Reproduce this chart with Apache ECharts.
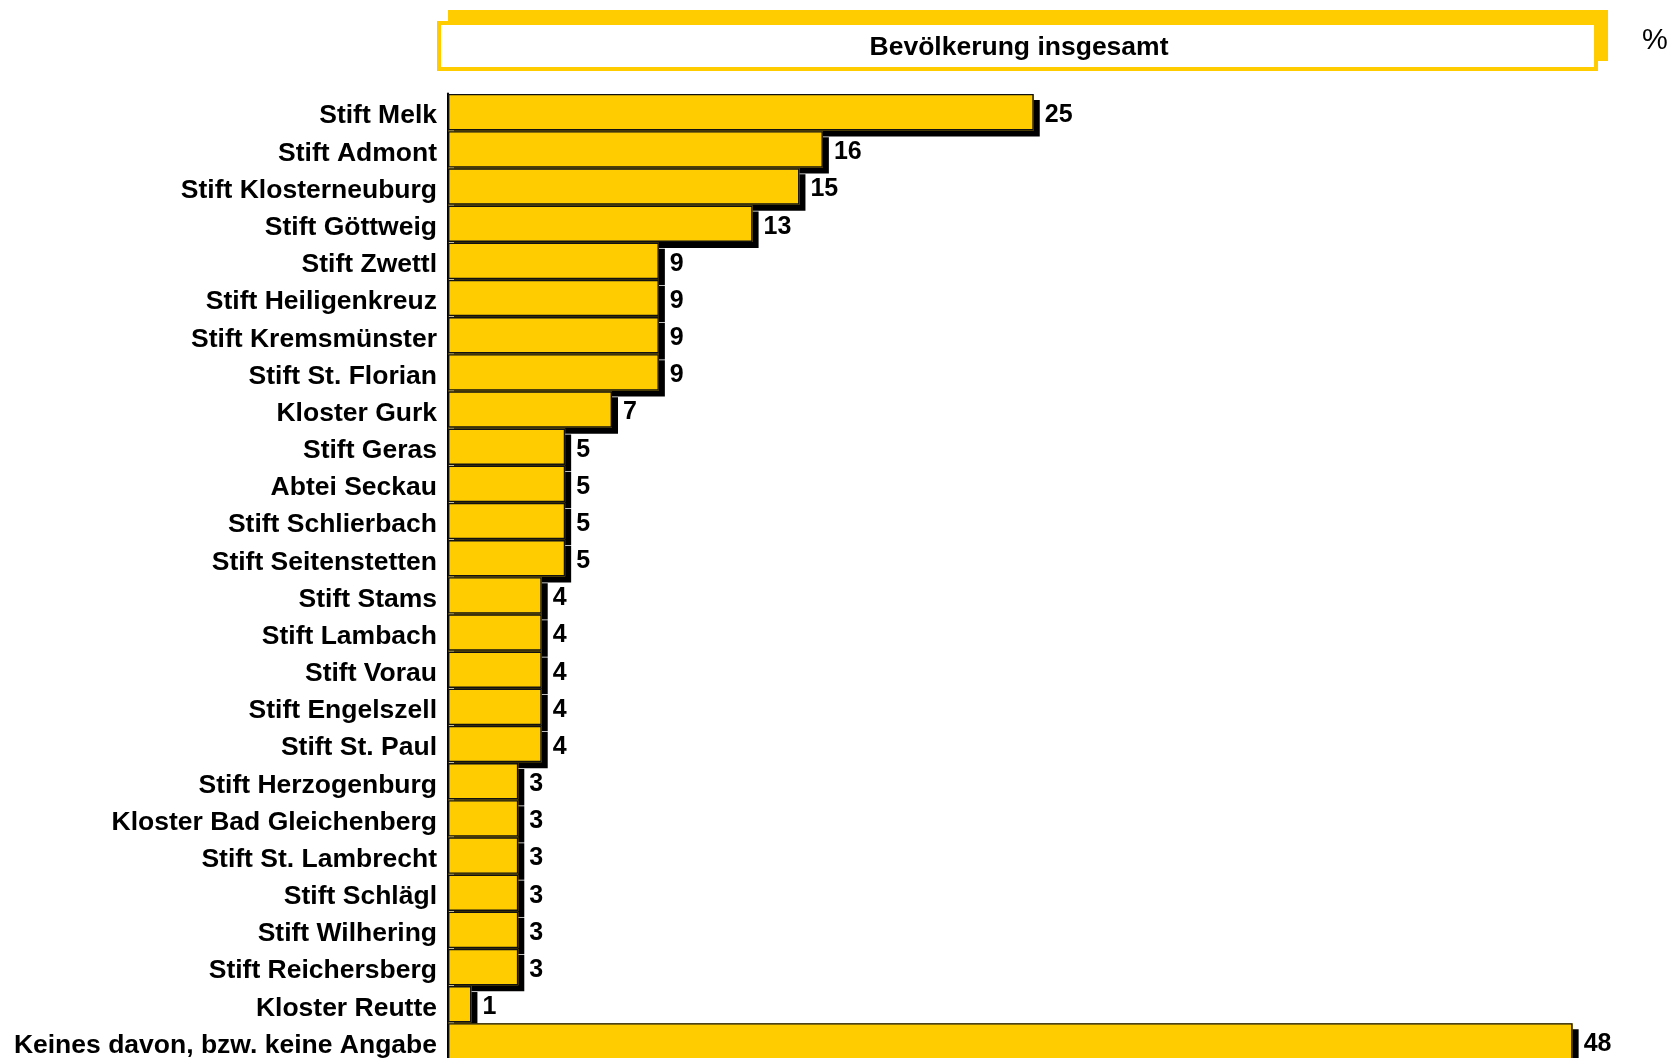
<!DOCTYPE html>
<html>
<head>
<meta charset="utf-8">
<script src="https://cdn.jsdelivr.net/npm/echarts@6/dist/echarts.min.js"></script>
<style>
  html, body { margin: 0; padding: 0; background: #fff; overflow: hidden; }
  #chart { width: 1674px; height: 1062px; }
</style>
</head>
<body>
<div id="chart"></div>
<script>
const categories = [
  'Stift Melk', 'Stift Admont', 'Stift Klosterneuburg', 'Stift Göttweig',
  'Stift Zwettl', 'Stift Heiligenkreuz', 'Stift Kremsmünster', 'Stift St. Florian',
  'Kloster Gurk', 'Stift Geras', 'Abtei Seckau', 'Stift Schlierbach',
  'Stift Seitenstetten', 'Stift Stams', 'Stift Lambach', 'Stift Vorau',
  'Stift Engelszell', 'Stift St. Paul', 'Stift Herzogenburg', 'Kloster Bad Gleichenberg',
  'Stift St. Lambrecht', 'Stift Schlägl', 'Stift Wilhering', 'Stift Reichersberg',
  'Kloster Reutte', 'Keines davon, bzw. keine Angabe'
]
const values = [25, 16, 15, 13, 9, 9, 9, 9, 7, 5, 5, 5, 5, 4, 4, 4, 4, 4, 3, 3, 3, 3, 3, 3, 1, 48]
const title = 'Bevölkerung insgesamt'
const unit = '%'

const font = '"Liberation Sans", Arial, sans-serif'
const yellow = '#ffcc00'

const chart = echarts.init(document.getElementById('chart'))

chart.setOption({
  animation: false,
  backgroundColor: '#fff',
  grid: { left: 448, right: 54.5, top: 93.6, bottom: 2, containLabel: false },
  xAxis: {
    type: 'value',
    min: 0,
    max: 50,
    show: false
  },
  yAxis: {
    type: 'category',
    data: categories,
    inverse: true,
    axisLine: { show: true, lineStyle: { color: '#000', width: 2 } },
    axisTick: { show: false },
    axisLabel: { show: false }
  },
  series: [
    // drop shadow layer (each bar covers the shadow of the one above);
    // also carries the category names left of the axis
    {
      type: 'bar',
      data: values,
      barCategoryGap: '2%',
      barGap: '-100%',
      silent: true,
      itemStyle: {
        color: yellow,
        shadowColor: '#000',
        shadowBlur: 0,
        shadowOffsetX: 6,
        shadowOffsetY: 6
      },
      label: {
        show: true,
        position: [-11, '50%'],
        align: 'right',
        verticalAlign: 'middle',
        offset: [0, 4],
        formatter: '{b}',
        color: '#000',
        fontFamily: font,
        fontWeight: 'bold',
        fontSize: 26.5
      }
    },
    {
      type: 'bar',
      data: values,
      barCategoryGap: '2%',
      barGap: '-100%',
      itemStyle: {
        color: yellow,
        borderColor: '#111',
        borderWidth: 1.4
      },
      label: {
        show: true,
        position: 'right',
        distance: 11,
        offset: [0, 3],
        color: '#000',
        fontFamily: font,
        fontWeight: 'bold',
        fontSize: 25
      }
    }
  ],
  graphic: [
    {
      type: 'rect',
      shape: { x: 448, y: 10, width: 1160, height: 51 },
      style: { fill: yellow }
    },
    {
      type: 'rect',
      shape: { x: 439, y: 23, width: 1157, height: 46 },
      style: { fill: '#fff', stroke: yellow, lineWidth: 4 }
    },
    {
      type: 'text',
      x: 1019,
      y: 48,
      style: {
        text: title,
        fill: '#000',
        font: 'bold 26.5px ' + font,
        align: 'center',
        verticalAlign: 'middle'
      }
    },
    {
      type: 'text',
      x: 1655,
      y: 41,
      style: {
        text: unit,
        fill: '#000',
        font: '29px ' + font,
        align: 'center',
        verticalAlign: 'middle'
      }
    }
  ]
})
</script>
</body>
</html>
